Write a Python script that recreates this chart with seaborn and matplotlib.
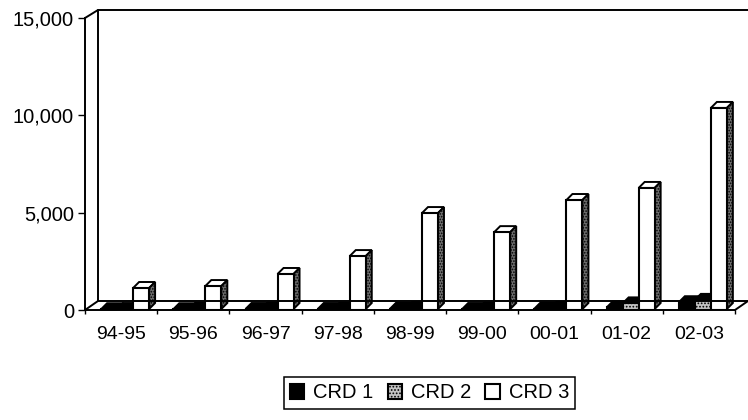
import numpy as np
import pandas as pd
import matplotlib
matplotlib.use('Agg')
import matplotlib.pyplot as plt
import seaborn as sns
from matplotlib.lines import Line2D
from matplotlib.patches import Polygon
from matplotlib.transforms import IdentityTransform

# valores
anos = ['94-95', '95-96', '96-97', '97-98', '98-99', '99-00', '00-01', '01-02', '02-03']
crd1 = [40, 40, 50, 50, 60, 50, 70, 130, 400]
crd2 = [50, 60, 70, 70, 90, 70, 100, 340, 520]
crd3 = [1130, 1230, 1850, 2770, 4980, 4000, 5650, 6270, 10380]
series = ['CRD 1', 'CRD 2', 'CRD 3']
cores = ['black', '#c4c4c4', 'white']

df = pd.DataFrame({'ano': anos * 3,
                   'serie': np.repeat(series, len(anos)),
                   'valor': crd1 + crd2 + crd3})

W, H = 748, 420
sns.set_style('white')
plt.rcParams['font.family'] = ['Liberation Sans', 'DejaVu Sans']
plt.rcParams['hatch.linewidth'] = 0.8
plt.rcParams['text.color'] = 'black'
plt.rcParams['xtick.labelcolor'] = 'black'
plt.rcParams['ytick.labelcolor'] = 'black'

fig = plt.figure(figsize=(W / 100, H / 100), dpi=100)
ax = fig.add_axes([85 / W, 1 - 310 / H, 650 / W, 292 / H])

sns.barplot(data=df, x='ano', y='valor', hue='serie', palette=cores, width=0.665,
            edgecolor='black', linewidth=1.5, saturation=1, ax=ax, zorder=3)
ax.set_xlim(-0.5, 8.5)
ax.set_ylim(0, 15000)
ax.set_xlabel('')
ax.set_ylabel('')
ax.set_yticks([0, 5000, 10000, 15000])
ax.set_yticklabels(['0', '5,000', '10,000', '15,000'], fontsize=14.5)
ax.set_xticks(range(len(anos)))
ax.set_xticklabels(anos, fontsize=14)
ax.set_xticks(np.arange(-0.5, 9), minor=True)
ax.tick_params(axis='x', which='major', length=0, pad=11.5)
ax.tick_params(axis='x', which='minor', length=3, width=1, color='black', bottom=True)
ax.tick_params(axis='y', length=5, width=1, color='black', left=True, pad=3)
for lado in ['top', 'right']:
    ax.spines[lado].set_visible(False)
for lado in ['left', 'bottom']:
    ax.spines[lado].set_color('black')
    ax.spines[lado].set_linewidth(1.4)
ax.patch.set_alpha(0)


def px(x, y):
    # coordenadas da imagem (y para baixo) para display
    return (x, H - y)


# parede do fundo e chao
linhas = [[(85, 18), (98, 10), (748, 10)],
          [(98, 10), (98, 301)],
          [(85, 310), (98, 301), (748, 301)],
          [(735, 310), (748, 301)]]
for pts in linhas:
    xs, ys = zip(*[px(*p) for p in pts])
    fig.add_artist(Line2D(xs, ys, color='black', lw=1.4, transform=IdentityTransform(), zorder=1))

# desloca as barras e desenha topo e lateral de cada uma
dx, dy = 6, 6
lateral = ['black', 'black', '#6e6e6e']
topo = ['black', 'black', 'white']
for i, cont in enumerate(ax.containers):
    for p in cont:
        p.set_x(p.get_x() + 0.055)
        if i == 1:
            p.set_hatch('.....')
        x0, y0 = ax.transData.transform((p.get_x(), 0))
        x1, y1 = ax.transData.transform((p.get_x() + p.get_width(), p.get_height()))
        y0 += 1
        face_topo = [(x0, y1), (x1, y1), (x1 + dx, y1 + dy), (x0 + dx, y1 + dy)]
        face_lado = [(x1, y0), (x1 + dx, y0 + dy), (x1 + dx, y1 + dy), (x1, y1)]
        ax.add_patch(Polygon(face_topo, closed=True, facecolor=topo[i], edgecolor='black', lw=1.4,
                             transform=IdentityTransform(), zorder=2.5, clip_on=False))
        ax.add_patch(Polygon(face_lado, closed=True, facecolor=lateral[i], edgecolor='black', lw=1.4,
                             hatch='......' if i == 2 else None,
                             transform=IdentityTransform(), zorder=2.5, clip_on=False))

# legenda
handles, labels = ax.get_legend_handles_labels()
handles[1].set_hatch('.....')
ax.legend_.remove()
leg = fig.legend(handles, labels, ncol=3, loc='center', bbox_to_anchor=(429.5 / W, 1 - 393 / H),
                 fontsize=14.5, frameon=True, fancybox=False, edgecolor='black', framealpha=1,
                 handlelength=0.72, handleheight=0.8, handletextpad=0.45, columnspacing=0.7,
                 borderpad=0.3, borderaxespad=0, labelcolor='black')
leg.get_frame().set_linewidth(1.1)

fig.savefig('out.png', dpi=100)
